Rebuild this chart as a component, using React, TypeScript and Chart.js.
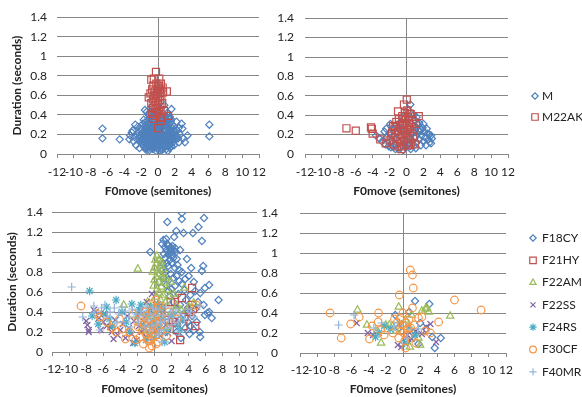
import React, { useEffect, useRef } from 'react';
import { Chart, registerables } from 'chart.js';
import { drawPoint } from 'chart.js/helpers';
Chart.register(...registerables);

type P = [number, number];

const X_MIN = -12;
const X_MAX = 12;
const X_STEP = 2;
const Y_MIN = 0;
const Y_MAX = 1.4;
const Y_STEP = 0.2;
const X_TITLE = 'F0move (semitones)';
const Y_TITLE = 'Duration (seconds)';

// ---------- Top-left panel ----------
const tlM: P[] = [
  [-6.6,0.26],[-6.6,0.16],[-4.55,0.15],[6.1,0.30],[6.1,0.18],
  [-3.3,0.19],[-3.4,0.15],[-3.1,0.22],[-2.7,0.30],[-2.6,0.09],[-2.2,0.06],[-1.55,0.45],[-1.35,0.43],[1.6,0.46],[0.75,0.50],[2.8,0.31],[2.9,0.26],[3.5,0.19],[3.2,0.12],[2.5,0.12],[2.5,0.27],[1.8,0.21],[-1.3,0.04],[2.2,0.33],[-2.9,0.13],[-3.0,0.24],[3.0,0.16],[2.6,0.20],[2.3,0.24],[-2.4,0.19],[-2.1,0.26],[-2.5,0.15],[1.9,0.09],[2.1,0.15],[-1.9,0.10],[-0.8,0.48],[0.3,0.47],[-0.3,0.44],[1.1,0.42],[-1.1,0.40],[1.4,0.38],[-1.7,0.35],
  [-1.5,0.05],[-1.0,0.04],[-0.6,0.05],[-0.2,0.03],[0.2,0.04],[0.6,0.05],[1.0,0.05],[1.4,0.06],[-0.4,0.07],[0.4,0.06],[0.8,0.07],[-0.9,0.07],[-1.3,0.08],[1.2,0.08],
  [-1.8,0.10],[-1.4,0.11],[-1.0,0.10],[-0.7,0.11],[-0.3,0.10],[0.0,0.09],[0.3,0.11],[0.7,0.10],[1.1,0.11],[1.5,0.10],[1.8,0.12],[-2.0,0.13],[-0.5,0.13],[0.5,0.13],[-1.2,0.14],[1.3,0.14],[0.1,0.14],[-0.1,0.12],[0.9,0.13],
  [-2.2,0.16],[-1.7,0.16],[-1.3,0.17],[-0.9,0.16],[-0.6,0.17],[-0.2,0.16],[0.2,0.17],[0.5,0.16],[0.9,0.17],[1.3,0.16],[1.7,0.17],[2.0,0.18],[-1.5,0.19],[-0.4,0.19],[0.0,0.19],[0.4,0.20],[0.8,0.19],[1.1,0.20],[1.5,0.20],[-1.1,0.20],[-0.7,0.21],[-1.9,0.21],
  [-1.6,0.23],[-1.2,0.24],[-0.8,0.23],[-0.4,0.24],[-0.1,0.23],[0.2,0.24],[0.6,0.23],[1.0,0.24],[1.4,0.23],[1.8,0.24],[-2.0,0.25],[-1.4,0.26],[-0.6,0.26],[0.0,0.26],[0.4,0.27],[0.8,0.26],[1.2,0.27],[1.6,0.27],[-1.0,0.27],[-0.2,0.28],
  [-1.5,0.29],[-1.1,0.30],[-0.7,0.29],[-0.3,0.31],[0.1,0.30],[0.5,0.30],[0.9,0.30],[1.3,0.31],[1.7,0.30],[-1.8,0.31],[-0.9,0.33],[-0.5,0.33],[0.0,0.33],[0.3,0.34],[0.7,0.33],[1.1,0.34],[1.5,0.33],[-1.3,0.34],[-0.1,0.36],[0.4,0.37],[-0.6,0.36],[0.9,0.36],[-1.0,0.37],[1.3,0.36],
  [-1.6,0.07],[-0.8,0.09],[0.0,0.06],[0.6,0.08],[1.6,0.08],[-1.9,0.15],[-1.1,0.13],[-0.3,0.15],[0.3,0.14],[1.0,0.15],[1.6,0.13],[-1.4,0.21],[-0.5,0.22],[0.3,0.21],[1.2,0.22],[1.9,0.21],[-1.7,0.27],[-0.8,0.28],[0.2,0.28],[1.0,0.29],[1.9,0.28],[-1.2,0.32],[-0.2,0.32],[0.6,0.32],[1.5,0.36],[-2.3,0.22],[2.2,0.19],[-2.4,0.28],[2.4,0.16],[-0.4,0.40],[0.6,0.41],[0.1,0.42],[-0.9,0.43],
  [-1.35,0.06],[-0.75,0.06],[-0.05,0.05],[0.45,0.04],[1.15,0.03],[-1.15,0.09],[-0.45,0.09],[0.15,0.08],[0.85,0.09],[1.35,0.10],[-1.65,0.12],[-0.85,0.12],[-0.15,0.11],[0.65,0.12],[1.45,0.12],[-1.35,0.15],[-0.55,0.15],[0.15,0.16],[0.75,0.15],[1.5,0.16],[-1.75,0.19],[-0.95,0.18],[-0.25,0.18],[0.55,0.18],[1.3,0.19],[-1.25,0.22],[-0.35,0.21],[0.45,0.22],[1.05,0.21],[1.65,0.22],[-1.55,0.25],[-0.85,0.25],[-0.15,0.25],[0.65,0.25],[1.45,0.25],[-1.25,0.28],[-0.45,0.28],[0.35,0.29],[1.15,0.28],[-0.85,0.31],[0.25,0.32],[1.05,0.32],[-0.35,0.34],[0.55,0.35],[-1.55,0.32],[1.85,0.15],[-2.1,0.19],[2.0,0.24],[-0.65,0.39],[0.95,0.39],[0.2,0.39]
];
const tlM22AK: P[] = [
  [-0.24,0.84],[-0.5,0.77],[0.15,0.77],[-0.8,0.76],[1.05,0.64],[-1.1,0.58],[-0.55,0.70],[0.55,0.68],[0.3,0.66],[-0.2,0.72],[0.0,0.68],[-0.7,0.66],[-0.4,0.64],[0.2,0.62],[0.6,0.63],[-0.9,0.62],[-0.3,0.60],[0.0,0.58],[0.4,0.59],[-0.6,0.56],[-0.2,0.54],[0.2,0.55],[0.5,0.52],[-0.8,0.52],[-0.4,0.50],[0.0,0.50],[0.3,0.48],[-0.6,0.47],[-0.2,0.46],[0.1,0.44],[-0.36,0.39],[1.2,0.39],[0.44,0.37],[-0.6,0.36],[0.0,0.265],[0.35,0.34],[-0.7,0.41],[0.3,0.38],[-0.1,0.42],[0.7,0.44],[-0.5,0.60],[0.35,0.72],[-0.1,0.64],[0.1,0.70]
];

// ---------- Top-right panel ----------
const trM: P[] = [
  [-3.6,0.19],[-3.2,0.16],[-2.9,0.13],[-2.6,0.23],[-2.5,0.10],[-2.3,0.17],[-2.1,0.08],[-2.0,0.21],[-1.9,0.31],[-1.85,0.07],[-1.7,0.14],[-1.6,0.19],[-1.5,0.25],[-1.4,0.10],[-1.3,0.05],[-1.2,0.16],[-1.1,0.22],[-1.0,0.28],[-0.9,0.05],[-0.9,0.12],[-0.8,0.18],[-0.7,0.33],[-0.6,0.09],[-0.5,0.24],[-0.5,0.38],[-0.4,0.04],[-0.3,0.15],[-0.2,0.29],[-0.1,0.07],[0.0,0.20],[0.1,0.34],[0.2,0.11],[0.3,0.26],[0.4,0.17],[0.45,0.51],[0.5,0.05],[0.6,0.31],[0.7,0.13],[0.8,0.22],[0.8,0.40],[0.9,0.09],[1.0,0.35],[1.0,0.17],[1.1,0.27],[1.2,0.12],[1.3,0.21],[1.4,0.30],[1.5,0.32],[1.5,0.15],[1.6,0.235],[1.7,0.09],[1.8,0.19],[1.9,0.27],[2.0,0.13],[2.1,0.23],[2.2,0.17],[2.4,0.26],[2.5,0.21],[2.6,0.15],[2.75,0.12],[2.9,0.19],[2.9,0.11],[3.0,0.16],[2.3,0.09],[1.2,0.38],[0.2,0.45],[-1.3,0.29],[-2.4,0.26],[0.6,0.20],[1.7,0.25],[-0.2,0.12],[0.4,0.08],[1.1,0.06],[-1.6,0.08],[2.0,0.31],[-0.8,0.26],[0.9,0.29],[1.4,0.24],[2.7,0.20]
];
const trM22AK: P[] = [
  [-7.1,0.265],[-6.0,0.24],[-4.2,0.275],[-4.1,0.26],[-4.0,0.21],[-3.1,0.15],[-2.45,0.11],[0.03,0.56],[-0.3,0.51],[-1.0,0.44],[1.45,0.39],[0.4,0.415],[0.3,0.09],[-1.8,0.19],
  [-2.0,0.14],[-1.7,0.22],[-1.5,0.10],[-1.4,0.28],[-1.3,0.17],[-1.2,0.33],[-1.1,0.08],[-1.0,0.23],[-0.9,0.36],[-0.8,0.13],[-0.7,0.27],[-0.6,0.19],[-0.5,0.39],[-0.5,0.08],[-0.4,0.31],[-0.3,0.24],[-0.3,0.14],[-0.2,0.36],[-0.1,0.20],[0.0,0.30],[0.0,0.10],[0.1,0.25],[0.2,0.38],[0.2,0.16],[0.3,0.32],[0.4,0.22],[0.5,0.12],[0.6,0.28],[0.7,0.35],[0.8,0.18],[0.9,0.26],[1.0,0.10],[1.1,0.31],[-0.8,0.30],[-1.6,0.29],[-0.6,0.05],[0.1,0.45],[-0.2,0.42],[0.5,0.41]
];

// ---------- Bottom-left panel ----------
const blF18CY: P[] = [
  [3.2,1.39],[3.2,1.33],[1.5,1.30],[5.8,1.34],[5.15,1.25],[2.55,1.21],[3.4,1.19],[4.5,1.19],[2.3,1.15],[5.55,1.11],[1.05,1.12],[1.37,1.13],[2.0,1.04],[3.0,1.02],[-0.5,1.0],[1.64,0.97],[2.2,0.94],[1.25,0.94],[1.45,0.89],[2.0,0.89],[2.4,0.84],[3.2,0.80],[4.0,0.76],[5.7,0.86],[5.55,0.81],[2.2,0.74],[1.65,0.72],[3.2,0.68],[4.77,0.61],[6.4,0.67],[5.9,0.64],[7.5,0.52],[4.2,0.57],[5.35,0.59],[5.75,0.47],[6.4,0.40],[5.9,0.37],[6.7,0.34],[6.2,0.39],[5.3,0.20],[5.35,0.15],[4.2,0.26],[4.95,0.30],[1.65,0.61],
  [1.6,1.06],[1.8,1.03],[2.1,1.06],[1.9,1.00],[1.4,1.02],[2.3,1.01],[1.7,0.99],[2.0,0.97],[1.2,1.05],[2.5,1.00],[1.5,1.08],[2.6,0.93],[1.8,0.92],[1.1,0.98],[2.4,1.04],[1.6,0.86],[2.7,0.87],[1.0,0.88],[2.9,0.82],[1.3,0.80],[1.9,0.78],[2.6,0.76],[1.1,0.74],[2.9,0.71],[2.4,0.66],[1.4,0.67],[2.0,0.63],[3.5,0.62],[1.8,0.56],[2.8,0.58],[3.7,0.52],[2.2,0.50],[3.0,0.47],[3.9,0.44],[2.5,0.42],[3.4,0.38],[4.4,0.36],[3.9,0.30],[2.9,0.32],[3.6,0.24],[4.6,0.22],[4.1,0.18],[2.6,0.20],[3.1,0.14],[0.6,0.92],[0.9,1.08],[0.8,0.81],[0.5,0.70],[3.8,0.93],[4.3,0.84],[3.6,0.73],[4.6,0.70],[5.1,0.50],[4.8,0.43]
];
const blF21HY: P[] = [
  [4.4,0.64],[3.2,0.54],[2.4,0.50],[4.4,0.47],[4.5,0.43],[1.65,0.32],[3.4,0.26],[4.77,0.26],[3.0,0.12],[1.9,0.50],[2.2,0.30],[3.5,0.35],[1.2,0.36],[2.6,0.22],[0.8,0.44],[4.0,0.40]
];
const blF22AM: P[] = [
  [0.28,0.96],[0.5,0.92],[0.2,0.88],[0.7,0.86],[0.0,0.84],[0.4,0.82],[1.0,0.83],[-0.2,0.80],[0.6,0.78],[0.9,0.76],[0.2,0.75],[1.3,0.74],[0.0,0.72],[0.5,0.70],[1.1,0.69],[-0.1,0.66],[0.8,0.65],[0.3,0.63],[1.5,0.62],[0.6,0.59],[1.0,0.57],[0.2,0.55],[1.7,0.55],[0.7,0.52],[1.3,0.50],[-1.95,0.83],[3.5,0.64],[4.6,0.49],[-3.6,0.47],[2.6,0.46],[3.1,0.42],[2.0,0.40],[-0.4,0.36],[0.4,0.30],[1.5,0.25],[-1.2,0.22],[0.9,0.42],[-0.8,0.50],[2.3,0.58],[4.0,0.45],[1.9,0.70],[0.1,0.92],[0.8,0.90]
];
const blF22SS: P[] = [
  [-8.0,0.31],[-7.7,0.22],[-7.7,0.20],[-7.1,0.42],[-6.9,0.40],[-7.85,0.27],[-6.5,0.34],[-6.0,0.30],[-5.6,0.26],[-5.2,0.25],[-5.0,0.20],[-4.6,0.32],[-4.3,0.17],[-4.0,0.22],[-3.7,0.28],[-3.4,0.14],[-3.0,0.24],[-2.7,0.18],[-2.4,0.31],[-2.1,0.12],[-1.8,0.26],[-1.5,0.20],[-1.2,0.35],[-1.0,0.15],[-0.7,0.28],[-0.5,0.42],[-0.3,0.58],[-0.2,0.10],[0.1,0.22],[0.4,0.33],[0.7,0.16],[1.0,0.40],[1.3,0.27],[2.0,0.11],[1.6,0.19],[-0.9,0.50],[-6.3,0.22],[-5.8,0.38],[-4.8,0.13],[-3.2,0.36],[-2.5,0.09],[0.2,0.47],[2.4,0.30],[-1.6,0.41]
];
const blF24RS: P[] = [
  [-7.6,0.61],[-6.6,0.28],[-4.5,0.52],[-2.65,0.48],[-1.6,0.47],[0.4,0.48],[-2.3,0.09],[-6.0,0.38],[-5.3,0.33],[-4.9,0.26],[-3.8,0.40],[-3.3,0.30],[-2.9,0.20],[-2.0,0.36],[-1.3,0.27],[-0.9,0.38],[-0.6,0.18],[-0.2,0.30],[0.2,0.40],[0.6,0.24],[1.0,0.33],[1.5,0.20],[2.1,0.37],[2.7,0.27],[3.3,0.32],[-1.0,0.12],[0.0,0.14],[1.2,0.10],[-7.3,0.36],[-5.6,0.45],[3.0,0.22],[-0.4,0.45],[0.8,0.44],[-1.8,0.42]
];
const blF30CF: P[] = [
  [-8.6,0.46],[-6.4,0.35],[-5.0,0.24],[-3.4,0.13],[-1.9,0.25],[-0.6,0.04],[-6.7,0.38],[-5.6,0.30],[-4.5,0.20],[-4.1,0.33],[-3.8,0.23],[-2.9,0.20],[-2.5,0.38],[-2.2,0.12],[-1.6,0.30],[-1.3,0.08],[-1.0,0.18],[-0.8,0.26],[-0.5,0.33],[-0.3,0.15],[-0.1,0.42],[0.0,0.22],[0.2,0.30],[0.4,0.10],[0.5,0.38],[0.7,0.20],[-0.4,0.48],[0.1,0.52],[-1.1,0.40],[1.0,0.28],[1.4,0.16],[4.9,0.47],[-0.7,0.11],[0.3,0.44],[-1.5,0.34],[-0.2,0.27],[0.8,0.34],[1.7,0.40],[2.6,0.33],[-2.0,0.30],
  [-1.2,0.28],[-0.9,0.36],[-0.6,0.21],[-0.4,0.40],[-0.2,0.19],[0.0,0.35],[0.2,0.08],[0.4,0.25],[0.6,0.30],[-0.8,0.13],[0.1,0.17],[-0.3,0.06],[0.6,0.46],[-1.4,0.22],[-1.7,0.15]
];
const blF40MR: P[] = [
  [-9.7,0.65],[-7.1,0.46],[-5.8,0.47],[-8.4,0.35],[-6.4,0.22],[-7.0,0.40],[-6.2,0.44],[-5.2,0.40],[-4.7,0.44],[-4.2,0.38],[-3.8,0.45],[-3.4,0.41],[-3.0,0.35],[-2.6,0.43],[-2.2,0.38],[-1.9,0.30],[-1.6,0.41],[-1.3,0.36],[-1.0,0.45],[-0.8,0.32],[-0.5,0.38],[-0.2,0.44],[0.1,0.36],[0.4,0.42],[0.7,0.30],[1.0,0.37],[1.3,0.45],[1.6,0.33],[1.9,0.40],[2.2,0.35],[2.5,0.42],[2.8,0.30],[3.1,0.38],[3.5,0.33],[3.9,0.43],[4.2,0.40],[4.6,0.35],[5.3,0.46],[-4.4,0.30],[-2.8,0.25],[-0.6,0.22],[0.5,0.18],[1.5,0.24],[2.9,0.20],[-5.5,0.35],[-3.6,0.30],[0.9,0.10],[2.0,0.27],
  [-0.3,0.26],[0.3,0.28],[0.8,0.22],[-1.1,0.25],[1.2,0.30]
];

// ---------- Bottom-right panel ----------
const brF18CY: P[] = [[1.4,0.52],[3.07,0.49],[-0.9,0.38],[0.73,0.41],[4.4,0.15],[3.7,0.05],[2.0,0.30],[2.7,0.24],[1.2,0.20],[0.5,0.12],[-0.5,0.25],[3.4,0.16],[1.8,0.09]];
const brF21HY: P[] = [];
const brF22AM: P[] = [[-5.3,0.43],[-0.5,0.46],[5.5,0.37],[2.2,0.42],[2.6,0.44],[3.0,0.41],[2.8,0.45],[-4.2,0.28],[-2.55,0.10],[0.8,0.06],[-2.0,0.28],[-1.6,0.28],[-1.2,0.27],[1.0,0.38],[-3.0,0.22],[0.3,0.33],[1.8,0.15],[-0.8,0.22],[2.0,0.08]];
const brF22SS: P[] = [[-5.4,0.30],[-4.1,0.20],[2.7,0.26],[3.85,0.11],[-0.6,0.08],[1.5,0.22],[0.5,0.18],[-0.2,0.06],[2.2,0.19],[3.2,0.29],[-3.5,0.18],[1.0,0.14]];
const brF24RS: P[] = [[-3.2,0.16],[-2.2,0.27],[-1.5,0.24],[0.2,0.10],[-0.4,0.30],[0.7,0.26],[1.4,0.18],[-2.8,0.20]];
const brF30CF: P[] = [[0.85,0.83],[1.1,0.78],[1.2,0.65],[-0.43,0.58],[6.0,0.53],[9.1,0.43],[-8.5,0.40],[-5.1,0.36],[-6.1,0.29],[-7.2,0.15],[-2.85,0.40],[-2.9,0.31],[4.15,0.31],[1.1,0.45],[1.8,0.35],[2.2,0.36],[-2.55,0.23],[-3.9,0.14],[-3.6,0.27],[-2.2,0.18],[0.0,0.40],[0.4,0.30],[-0.2,0.22],[0.6,0.18],[0.2,0.12],[-0.1,0.28],[0.9,0.25],[1.5,0.10],[-0.5,0.15],[0.3,0.05],[-0.3,0.35],[0.7,0.33],[1.3,0.28],[2.6,0.22],[-1.2,0.20],[0.1,0.20],[0.5,0.24],[-0.7,0.30],[3.2,0.20],[-1.0,0.34]];
const brF40MR: P[] = [[-7.5,0.28],[-5.7,0.38],[-3.4,0.25],[-1.0,0.27],[0.5,0.15],[1.8,0.24],[-2.5,0.30]];

// ---------- styles ----------
const STYLE: Record<string, { ps: string; r: number; lr: number; color: string }> = {
  M: { ps: 'rectRot', r: 3.6, lr: 3.2, color: '#4F81BD' },
  M22AK: { ps: 'rect', r: 5, lr: 4.6, color: '#C0504D' },
  F18CY: { ps: 'rectRot', r: 3.6, lr: 3.2, color: '#4F81BD' },
  F21HY: { ps: 'rect', r: 5, lr: 4.6, color: '#C0504D' },
  F22AM: { ps: 'triangle', r: 4.2, lr: 3.6, color: '#9BBB59' },
  F22SS: { ps: 'crossRot', r: 4.2, lr: 3.6, color: '#8064A2' },
  F24RS: { ps: 'star', r: 4.2, lr: 3.6, color: '#4BACC6' },
  F30CF: { ps: 'circle', r: 3.8, lr: 3.4, color: '#F79646' },
  F40MR: { ps: 'cross', r: 4.2, lr: 3.6, color: '#95B3D7' },
};

const W = 582;
const H = 397;
const GRID = '#878787';
const TEXT = '#222222';
const FONT = 'Lato, "Open Sans", sans-serif';

type Panel = {
  l: number; t: number; r: number; b: number; axisBottom: number; padLeft: number;
  yTitle: boolean; yTitlePad: number; yTickPad: number; xTickPad: number; xTitlePad: number;
  series: { label: string; data: P[] }[];
  legend?: { mx: number; tx: number; y0: number; dy: number };
};

const PANELS: Panel[] = [
  { l: 57, t: 15, r: 259, b: 154, axisBottom: 200, padLeft: 0, yTitle: true, yTitlePad: 9.5, yTickPad: 10, xTickPad: 7, xTitlePad: 2,
    series: [{ label: 'M', data: tlM }, { label: 'M22AK', data: tlM22AK }] },
  { l: 305, t: 15, r: 508, b: 154, axisBottom: 200, padLeft: 240, yTitle: false, yTitlePad: 0, yTickPad: 11, xTickPad: 7, xTitlePad: 2,
    series: [{ label: 'M', data: trM }, { label: 'M22AK', data: trM22AK }],
    legend: { mx: 535, tx: 542, y0: 96, dy: 21 } },
  { l: 52, t: 212, r: 257, b: 352, axisBottom: 397, padLeft: 0, yTitle: true, yTitlePad: 4.8, yTickPad: 9, xTickPad: 6, xTitlePad: 1,
    series: [
      { label: 'F18CY', data: blF18CY }, { label: 'F21HY', data: blF21HY }, { label: 'F22AM', data: blF22AM },
      { label: 'F22SS', data: blF22SS }, { label: 'F24RS', data: blF24RS }, { label: 'F30CF', data: blF30CF },
      { label: 'F40MR', data: blF40MR },
    ] },
  { l: 300, t: 213, r: 506, b: 353, axisBottom: 397, padLeft: 240, yTitle: false, yTitlePad: 0, yTickPad: 22, xTickPad: 6, xTitlePad: 1,
    series: [
      { label: 'F18CY', data: brF18CY }, { label: 'F21HY', data: brF21HY }, { label: 'F22AM', data: brF22AM },
      { label: 'F22SS', data: brF22SS }, { label: 'F24RS', data: brF24RS }, { label: 'F30CF', data: brF30CF },
      { label: 'F40MR', data: brF40MR },
    ],
    legend: { mx: 533, tx: 542, y0: 238, dy: 22.3 } },
];

function PanelChart({ cfg }: { cfg: Panel }) {
  const ref = useRef<HTMLCanvasElement>(null);
  useEffect(() => {
    const n = cfg.series.length;
    const legendPlugin = {
      id: 'panelLegend',
      afterDraw(ch: any) {
        if (!cfg.legend) return;
        const ctx = ch.ctx as CanvasRenderingContext2D;
        const lg = cfg.legend;
        ctx.save();
        cfg.series.forEach((s, i) => {
          const st = STYLE[s.label];
          const y = lg.y0 + i * lg.dy;
          ctx.strokeStyle = st.color;
          ctx.fillStyle = 'rgba(0,0,0,0)';
          ctx.lineWidth = 1.2;
          drawPoint(ctx, { pointStyle: st.ps as any, radius: st.lr, rotation: 0, borderWidth: 1.2 } as any, lg.mx, y);
          ctx.fillStyle = TEXT;
          ctx.font = `12px ${FONT}`;
          ctx.textBaseline = 'middle';
          ctx.textAlign = 'left';
          ctx.fillText(s.label, lg.tx, y);
        });
        ctx.restore();
      },
    };
    const chart = new Chart(ref.current as HTMLCanvasElement, {
      type: 'scatter',
      data: {
        datasets: cfg.series.map((s, i) => {
          const st = STYLE[s.label];
          return {
            label: s.label,
            data: s.data.map(([x, y]) => ({ x, y })),
            pointStyle: st.ps as any,
            pointRadius: st.r,
            pointHoverRadius: st.r,
            pointBorderWidth: 1.2,
            pointBorderColor: st.color,
            pointBackgroundColor: 'rgba(0,0,0,0)',
            borderColor: st.color,
            backgroundColor: 'rgba(0,0,0,0)',
            order: n - i,
          };
        }),
      },
      options: {
        responsive: false,
        animation: false,
        events: [],
        layout: { padding: { left: cfg.padLeft, top: cfg.t, right: W - cfg.r, bottom: H - cfg.axisBottom } },
        plugins: { legend: { display: false }, tooltip: { enabled: false } },
        scales: {
          x: {
            type: 'linear',
            min: X_MIN,
            max: X_MAX,
            ticks: { stepSize: X_STEP, autoSkip: false, maxRotation: 0, minRotation: 0, padding: cfg.xTickPad, color: TEXT, font: { family: FONT, size: 12 } },
            grid: {
              color: (c: any) => (c.tick && c.tick.value === 0 ? GRID : 'rgba(0,0,0,0)'),
              tickColor: GRID,
              tickLength: 4,
              drawTicks: true,
              lineWidth: 1,
            },
            border: { display: true, color: GRID, width: 1 },
            title: { display: true, text: X_TITLE, color: TEXT, font: { family: FONT, size: 12, weight: 'bold' }, padding: { top: 0, bottom: cfg.xTitlePad } },
            afterFit: (s: any) => { s.height = cfg.axisBottom - cfg.b; },
          },
          y: {
            type: 'linear',
            min: Y_MIN,
            max: Y_MAX,
            ticks: {
              stepSize: Y_STEP, padding: cfg.yTickPad, color: TEXT, font: { family: FONT, size: 12 },
              callback: (v: any) => String(Math.round(Number(v) * 10) / 10),
            },
            grid: { color: GRID, drawTicks: false, lineWidth: 1 },
            border: { display: false },
            title: { display: cfg.yTitle, text: Y_TITLE, color: TEXT, font: { family: FONT, size: 12, weight: 'bold' }, padding: { top: cfg.yTitlePad, bottom: 0 } },
            afterFit: (s: any) => { s.width = cfg.l - cfg.padLeft; },
          },
        },
      } as any,
      plugins: [legendPlugin],
    });
    return () => chart.destroy();
  }, []);
  return <canvas ref={ref} width={W} height={H} style={{ position: 'absolute', left: 0, top: 0, width: W, height: H }} />;
}

export default function App() {
  return (
    <div style={{ position: 'absolute', left: 0, top: 0, width: W, height: H, background: '#ffffff', overflow: 'hidden' }}>
      {PANELS.map((p, i) => (
        <PanelChart key={i} cfg={p} />
      ))}
    </div>
  );
}
